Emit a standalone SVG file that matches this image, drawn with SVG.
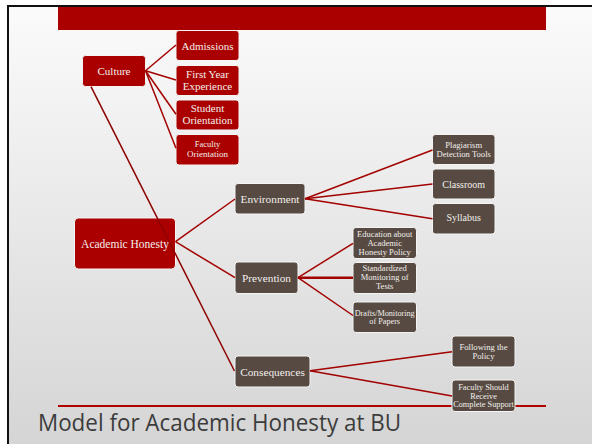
<svg xmlns="http://www.w3.org/2000/svg" width="592" height="444" viewBox="0 0 592 444">
<defs>
<linearGradient id="bg" x1="0" y1="0" x2="0" y2="1">
<stop offset="0" stop-color="#fbfbfb"/>
<stop offset="1" stop-color="#d5d5d5"/>
</linearGradient>
<style>
.red{fill:#aa0000;stroke:#f4f4f4;stroke-width:1}
.brn{fill:#574a42;stroke:#f4f4f4;stroke-width:1}
text{font-family:"Liberation Serif","Times New Roman",serif;fill:#f2efec;text-anchor:middle}
.c line{stroke:#a30000;stroke-width:1.5;fill:none}
</style>
</defs>
<rect width="592" height="444" fill="#ffffff"/>
<rect x="7" y="5" width="585" height="439" fill="url(#bg)"/>
<rect x="7" y="5" width="585" height="2" fill="#111"/>
<rect x="7" y="5" width="2" height="439" fill="#111"/>
<rect x="58" y="7" width="488" height="23" fill="#aa0000"/>
<rect x="58" y="405" width="488" height="2" fill="#b00000"/>
<text x="38" y="431" style="font-family:'Open Sans','Liberation Sans',sans-serif;font-size:24px;fill:#3c3c3c;text-anchor:start" textLength="363" lengthAdjust="spacingAndGlyphs">Model for Academic Honesty at BU</text>

<g id="nodes">
<g id="culture"><rect class="red" x="82.5" y="55.5" width="63" height="31" rx="3"/><text x="114" y="75" font-size="11">Culture</text></g>
<g id="admissions"><rect class="red" x="176" y="30.5" width="63" height="30" rx="3"/><text x="207.5" y="49.5" font-size="11">Admissions</text></g>
<g id="firstyear"><rect class="red" x="176" y="65.5" width="63" height="30" rx="3"/><text x="207.5" y="78" font-size="11">First Year</text><text x="207.5" y="90" font-size="11">Experience</text></g>
<g id="student"><rect class="red" x="176" y="100" width="63" height="30" rx="3"/><text x="207.5" y="112" font-size="11">Student</text><text x="207.5" y="124" font-size="11">Orientation</text></g>
<g id="faculty"><rect class="red" x="176" y="134.5" width="63" height="30.5" rx="3"/><text x="207.5" y="147" font-size="8.5">Faculty</text><text x="207.5" y="156.5" font-size="9">Orientation</text></g>
<g id="academic"><rect class="red" x="74.5" y="218" width="101" height="51" rx="4"/><text x="125" y="247.5" font-size="11.5">Academic Honesty</text></g>
<g id="environment"><rect class="brn" x="235" y="183.5" width="70" height="30.5" rx="3"/><text x="270" y="202.5" font-size="11.3">Environment</text></g>
<g id="prevention"><rect class="brn" x="235" y="262" width="63" height="31.5" rx="3"/><text x="266.5" y="281.5" font-size="11.3">Prevention</text></g>
<g id="consequences"><rect class="brn" x="235" y="356" width="75" height="31" rx="3"/><text x="272.5" y="375.5" font-size="11.3">Consequences</text></g>
<g id="plagiarism"><rect class="brn" x="432.5" y="134.5" width="62.5" height="30" rx="3"/><text x="463.7" y="148" font-size="8.6">Plagiarism</text><text x="463.7" y="157" font-size="8.6">Detection Tools</text></g>
<g id="classroom"><rect class="brn" x="432.5" y="169" width="62.5" height="30" rx="3"/><text x="463.7" y="187.5" font-size="10">Classroom</text></g>
<g id="syllabus"><rect class="brn" x="432.5" y="203.5" width="62.5" height="30.5" rx="3"/><text x="463.7" y="221" font-size="10">Syllabus</text></g>
<g id="education"><rect class="brn" x="353" y="227.5" width="63.5" height="31" rx="3"/><text x="384.7" y="237.3" font-size="8.5">Education about</text><text x="384.7" y="246.3" font-size="8.5">Academic</text><text x="384.7" y="255.3" font-size="8.5">Honesty Policy</text></g>
<g id="standardized"><rect class="brn" x="353" y="262.5" width="63.5" height="31" rx="3"/><text x="384.7" y="271" font-size="8.5">Standardized</text><text x="384.7" y="280" font-size="8.5">Monitoring of</text><text x="384.7" y="289" font-size="8.5">Tests</text></g>
<g id="drafts"><rect class="brn" x="353" y="302" width="63.5" height="30.5" rx="3"/><text x="384.7" y="315.5" font-size="8.2">Drafts/Monitoring</text><text x="384.7" y="324" font-size="8.2">of Papers</text></g>
<g id="following"><rect class="brn" x="452" y="336" width="63" height="31" rx="3"/><text x="483.5" y="350.3" font-size="8.6">Following the</text><text x="483.5" y="359" font-size="8.6">Policy</text></g>
<g id="facultysupport"><rect class="brn" x="452" y="380" width="63" height="31.5" rx="3"/><text x="483.5" y="390.3" font-size="8.3">Faculty Should</text><text x="483.5" y="398.7" font-size="8.3">Receive</text><text x="483.5" y="407.3" font-size="8.3">Complete Support</text></g>
</g>

<g id="connectors" class="c">
<line x1="145.5" y1="70.7" x2="176" y2="45"/>
<line x1="145.5" y1="70.7" x2="176" y2="80"/>
<line x1="145.5" y1="70.7" x2="176" y2="114.3"/>
<line x1="145.5" y1="70.7" x2="176" y2="148.3"/>
<line x1="91" y1="86.7" x2="234.5" y2="371" style="stroke:#8e0000"/>
<line x1="175.5" y1="241.7" x2="235" y2="199"/>
<line x1="175.5" y1="241.7" x2="235" y2="277.7"/>
<line x1="305" y1="198.7" x2="432.5" y2="150"/>
<line x1="305" y1="198.7" x2="432.5" y2="184"/>
<line x1="305" y1="198.7" x2="432.5" y2="218.7"/>
<line x1="298" y1="277.7" x2="353" y2="243.3"/>
<line x1="298" y1="277.7" x2="353" y2="277.7" style="stroke-width:2.5"/>
<line x1="298" y1="277.7" x2="353" y2="315.5"/>
<line x1="310" y1="370.7" x2="452" y2="351.7"/>
<line x1="310" y1="370.7" x2="452" y2="396"/>
</g>
</svg>
